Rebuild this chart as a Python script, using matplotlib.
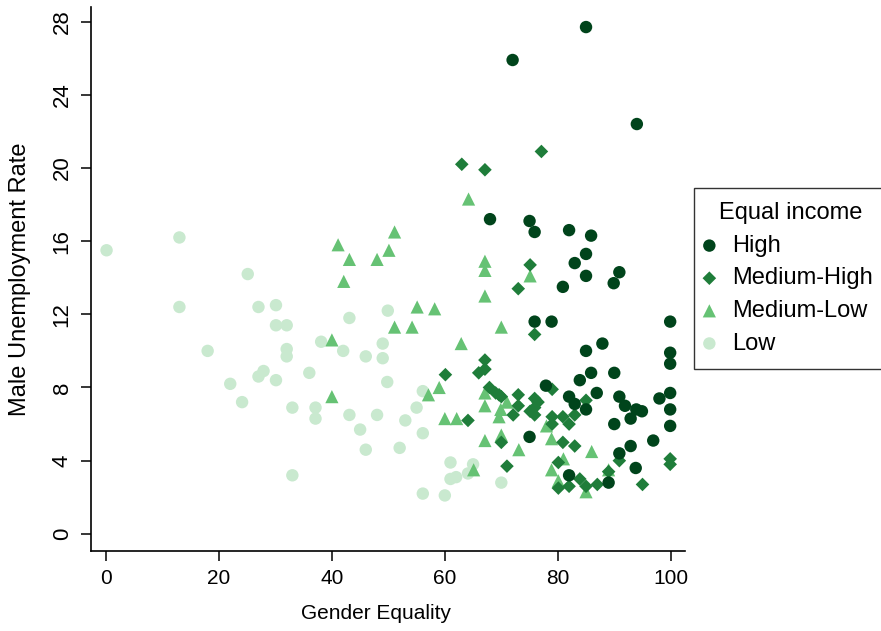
import matplotlib
matplotlib.use('Agg')
import matplotlib.pyplot as plt

plt.rcParams['font.family'] = ['Liberation Sans', 'DejaVu Sans']

### Data ----------------------------------------------------------------------

high_x = [72.0, 85.0, 94.0, 68.0, 75.0, 75.9, 82.0, 85.9, 85.0, 83.0, 90.9, 85.0,
          89.9, 80.9, 75.9, 78.9, 99.9, 87.9, 85.0, 99.9, 99.9, 85.9, 90.0, 83.9,
          77.9, 82.0, 83.0, 85.0, 86.9, 90.9, 91.9, 93.9, 94.9, 92.9, 98.0, 99.9,
          99.9, 99.9, 90.0, 75.0, 92.9, 96.9, 90.9, 82.0, 93.8, 89.0]
high_y = [25.9, 27.7, 22.4, 17.2, 17.1, 16.5, 16.6, 16.3, 15.3, 14.8, 14.3, 14.1,
          13.7, 13.5, 11.6, 11.6, 11.6, 10.4, 10.0, 9.9, 9.3, 8.8, 8.8, 8.4,
          8.1, 7.5, 7.1, 6.8, 7.7, 7.5, 7.0, 6.8, 6.7, 6.3, 7.4, 7.7,
          6.8, 5.9, 6.0, 5.3, 4.8, 5.1, 4.4, 3.2, 3.6, 2.8]

medhigh_x = [63.0, 67.1, 77.1, 75.1, 73.0, 75.9, 67.1, 67.1, 66.0, 60.1, 67.9, 69.0,
             70.0, 73.0, 73.0, 72.1, 75.9, 75.9, 75.1, 75.9, 64.1, 79.0, 80.9, 82.0,
             79.0, 83.0, 85.0, 79.0, 80.9, 83.0, 70.0, 71.0, 80.1, 80.1, 82.0, 83.9,
             85.0, 87.0, 89.0, 90.9, 95.0, 99.9, 99.9, 69.6, 76.5]
medhigh_y = [20.2, 19.9, 20.9, 14.7, 13.4, 10.9, 9.5, 9.0, 8.8, 8.7, 8.0, 7.7,
             7.5, 7.6, 7.0, 6.5, 7.4, 6.9, 6.7, 6.5, 6.2, 6.4, 6.4, 6.0,
             6.0, 6.5, 7.3, 7.9, 5.0, 4.8, 5.0, 3.7, 3.9, 2.5, 2.6, 3.0,
             2.6, 2.7, 3.4, 4.0, 2.7, 4.1, 3.8, 7.6, 7.2]

medlow_x = [64.2, 51.1, 50.1, 41.1, 43.1, 48.0, 42.1, 67.1, 67.1, 75.1, 67.1, 58.2,
            55.1, 51.1, 54.2, 70.0, 40.0, 62.9, 40.0, 59.0, 57.1, 67.1, 67.1, 69.9,
            69.6, 71.0, 60.0, 62.1, 67.1, 70.0, 73.1, 78.9, 78.0, 86.0, 81.0, 65.1,
            78.9, 80.1, 85.0, 89.0]
medlow_y = [18.3, 16.5, 15.5, 15.8, 15.0, 15.0, 13.8, 14.9, 14.4, 14.1, 13.0, 12.3,
            12.4, 11.3, 11.3, 11.3, 10.6, 10.4, 7.5, 8.0, 7.6, 7.7, 7.0, 6.8,
            6.4, 7.2, 6.3, 6.3, 5.1, 5.4, 4.6, 5.2, 5.9, 4.5, 4.1, 3.5,
            3.5, 2.9, 2.3, 3.5]

low_x = [0.1, 13.0, 25.1, 13.0, 27.0, 30.1, 30.1, 32.0, 43.1, 49.9, 18.0, 32.0,
         32.0, 38.1, 42.0, 46.0, 49.0, 49.0, 27.9, 27.0, 30.1, 36.0, 49.8, 22.0,
         24.1, 33.0, 37.1, 37.1, 43.1, 48.0, 45.0, 46.0, 33.0, 56.1, 55.0, 53.0,
         56.1, 52.0, 61.0, 61.0, 62.0, 56.1, 60.0, 65.0, 64.1, 70.0]
low_y = [15.5, 16.2, 14.2, 12.4, 12.4, 12.5, 11.4, 11.4, 11.8, 12.2, 10.0, 10.1,
         9.7, 10.5, 10.0, 9.7, 10.4, 9.6, 8.9, 8.6, 8.4, 8.8, 8.3, 8.2,
         7.2, 6.9, 6.9, 6.3, 6.5, 6.5, 5.7, 4.6, 3.2, 7.8, 6.9, 6.2,
         5.5, 4.7, 3.9, 3.0, 3.1, 2.2, 2.1, 3.8, 3.3, 2.8]

groups = ['High', 'Medium-High', 'Medium-Low', 'Low']
colors = ['#00441b', '#1f7d3a', '#66c274', '#c9e9cf']
markers = ['o', 'D', '^', 'o']
sizes = [80, 48, 90, 80]

### Plot ----------------------------------------------------------------------

fig = plt.figure(figsize=(8.81, 6.31), dpi=100)
ax = fig.add_axes([0.103, 0.127, 0.675, 0.862])

data = [(high_x, high_y), (medhigh_x, medhigh_y), (medlow_x, medlow_y), (low_x, low_y)]
# draw low first so darker groups sit on top
for i in [3, 2, 1, 0]:
	xs, ys = data[i]
	ax.scatter(xs, ys, s=sizes[i], c=colors[i], marker=markers[i],
		edgecolors='none', label=groups[i], zorder=3 + (3 - i))

ax.set_xlim(-2.7, 102.6)
ax.set_ylim(-0.93, 28.8)
ax.set_xticks([0, 20, 40, 60, 80, 100])
ax.set_yticks([0, 4, 8, 12, 16, 20, 24, 28])
ax.spines['top'].set_visible(False)
ax.spines['right'].set_visible(False)
for sp in ('left', 'bottom'):
	ax.spines[sp].set_linewidth(1.2)
ax.tick_params(axis='both', direction='out', length=7, width=1.1, pad=6)
ax.tick_params(axis='x', labelsize=15)
ax.tick_params(axis='y', labelsize=16)
plt.setp(ax.get_yticklabels(), rotation=90, va='center')
ax.set_xlabel('Gender Equality', fontsize=15)
ax.xaxis.set_label_coords(0.48, -0.097)
ax.set_ylabel('Male Unemployment Rate', fontsize=17)
ax.yaxis.set_label_coords(-0.1, 0.5)

handles, labels = ax.get_legend_handles_labels()
order = [labels.index(g) for g in groups]
leg = fig.legend([handles[k] for k in order], [labels[k] for k in order],
	title='Equal income', loc='upper left', bbox_to_anchor=(694 / 881, 1 - 188 / 631),
	borderaxespad=0, fontsize=17, title_fontsize=17, frameon=True, fancybox=False,
	handletextpad=0.9, handlelength=0.1, borderpad=0.6, labelspacing=0.45,
	handleheight=0.7)
leg.get_frame().set_edgecolor('black')
leg.get_frame().set_linewidth(1.0)

plt.savefig('out.png', dpi=100)
